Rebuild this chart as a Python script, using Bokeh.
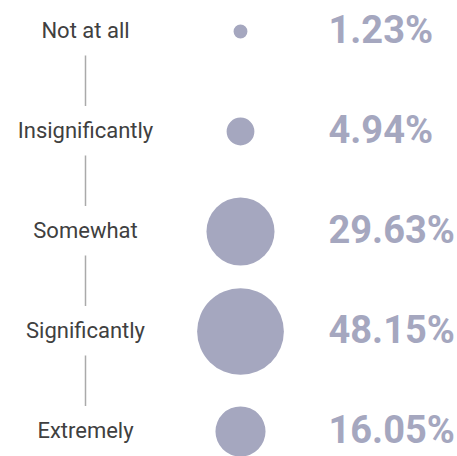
from bokeh.plotting import figure
from bokeh.models import ColumnDataSource, Range1d
from bokeh.core.properties import value
from bokeh.embed import file_html
from bokeh.resources import INLINE
import math

categories = ["Not at all", "Insignificantly", "Somewhat", "Significantly", "Extremely"]
percentages = [1.23, 4.94, 29.63, 48.15, 16.05]
pct_labels = ["1.23%", "4.94%", "29.63%", "48.15%", "16.05%"]

rows = list(range(len(categories)))
sizes = [12.5 * math.sqrt(v) for v in percentages]
text_rows = [r - 0.015 for r in rows]

src = ColumnDataSource(dict(row=rows, trow=text_rows, cat=categories, val=percentages,
                            lab=pct_labels, size=sizes))

seg = ColumnDataSource(dict(y0=[r + 0.24 for r in rows[:-1]],
                            y1=[r + 0.745 for r in rows[:-1]]))

W, H = 457, 456
p = figure(width=W, height=H, output_backend="svg", toolbar_location=None,
           x_range=Range1d(0, W), y_range=Range1d(len(categories) - 0.75, -0.31),
           min_border=0, outline_line_color=None)
p.axis.visible = False
p.grid.visible = False
p.background_fill_color = "white"
p.border_fill_color = "white"

LABEL_X, CIRCLE_X, PCT_X = 85, 240, 328
COL = "#a5a7bf"

p.segment(x0=LABEL_X, x1=LABEL_X, y0="y0", y1="y1", source=seg,
          line_color="#aaaaaa", line_width=1.5)

p.text(x=LABEL_X, y="trow", text="cat", source=src, text_align="center",
       text_baseline="middle", text_font=value("Roboto"), text_font_size="22px",
       text_color="#404040")

p.scatter(x=CIRCLE_X, y="row", size="size", source=src, fill_color=COL,
          line_color=None)

p.text(x=PCT_X, y="trow", text="lab", source=src, text_align="left",
       text_baseline="middle", text_font=value("Roboto"), text_font_size="38px",
       text_font_style="bold", text_color=COL)

open("out.html", "w").write(file_html(p, INLINE))
